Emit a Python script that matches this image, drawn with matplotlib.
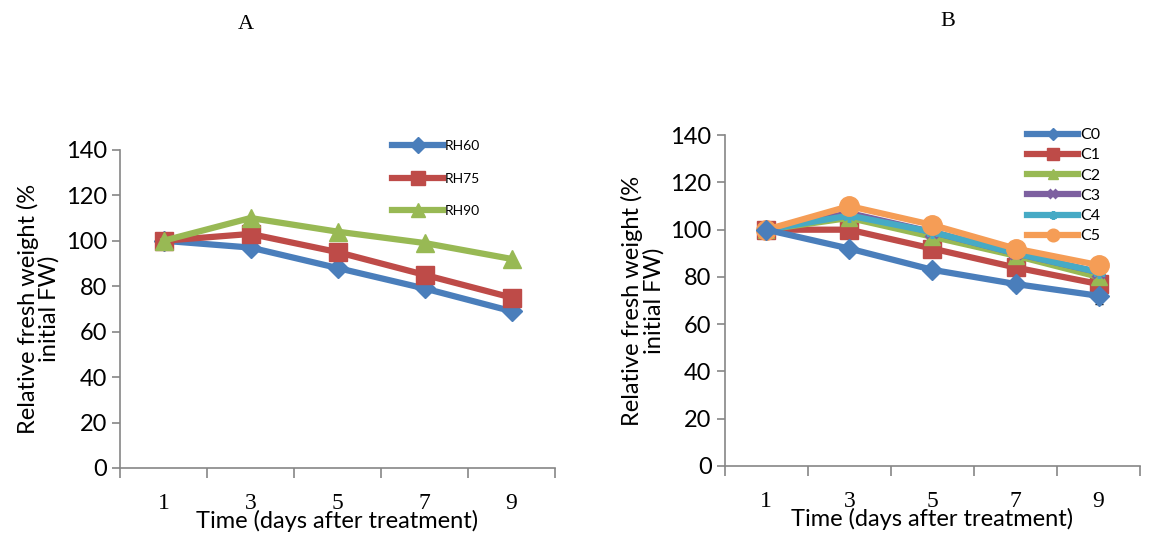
import matplotlib.pyplot as plt
import numpy as np

# values
days = ['1', '3', '5', '7', '9']

rh_names = ['RH60', 'RH75', 'RH90']
rh60 = [100, 97, 88, 79, 69]
rh75 = [100, 103, 95, 85, 75]
rh90 = [100, 110, 104, 99, 92]

c_names = ['C0', 'C1', 'C2', 'C3', 'C4', 'C5']
c0 = [100, 92, 83, 77, 72]
c1 = [100, 100, 92, 84, 77]
c2 = [100, 105, 97, 89, 80]
c3 = [100, 107, 99, 90, 82]
c4 = [100, 106, 99, 90, 82]
c5 = [100, 110, 102, 92, 85]
c0_err = [0, 1.5, 2, 2.5, 3.5]

blue = '#4a7ebb'
red = '#be4b48'
green = '#98b954'
purple = '#7d60a0'
teal = '#46aac5'
orange = '#f59d56'

sans = ['Lato', 'DejaVu Sans']
serif = ['Liberation Serif', 'DejaVu Serif']

fig = plt.figure(figsize=(11.54, 5.41), dpi=100)
axA = fig.add_axes([0.104, 0.135, 0.377, 0.588])
axB = fig.add_axes([0.628, 0.139, 0.360, 0.611])

x = np.arange(len(days))


def style_axis(ax):
    ax.set_ylim(0, 140)
    ax.set_xlim(-0.5, len(days) - 0.5)
    ax.set_yticks(range(0, 141, 20))
    ax.set_xticks(x)
    ax.set_xticklabels(days, fontfamily=serif, fontsize=17)
    ax.set_xticks(np.arange(-0.5, len(days)), minor=True)
    ax.tick_params(axis='x', which='major', length=0, pad=18)
    ax.tick_params(axis='x', which='minor', length=7, color='#868686', width=1.2)
    ax.tick_params(axis='y', length=6, color='#868686', width=1.2, labelsize=17)
    for lab in ax.get_yticklabels():
        lab.set_fontfamily(sans)
    for s in ['top', 'right']:
        ax.spines[s].set_visible(False)
    for s in ['left', 'bottom']:
        ax.spines[s].set_color('#868686')
        ax.spines[s].set_linewidth(1.2)
    ax.set_xlabel('Time (days after treatment)', fontfamily=sans, fontsize=17, labelpad=-3)
    ax.set_ylabel('Relative fresh weight (%\ninitial FW)', fontfamily=sans, fontsize=17,
                  linespacing=1.0, labelpad=4)


# panel A
lw = 4.5
axA.plot(x, rh60, color=blue, lw=lw, marker='D', ms=10, label=rh_names[0])
axA.plot(x, rh75, color=red, lw=lw, marker='s', ms=13, label=rh_names[1])
axA.plot(x, rh90, color=green, lw=lw, marker='^', ms=13, label=rh_names[2])
style_axis(axA)
axA.legend(loc='upper left', bbox_to_anchor=(0.625, 1.032), frameon=False,
           borderpad=0, borderaxespad=0,
           prop={'family': sans, 'size': 10}, handlelength=3.7, labelspacing=1.5,
           handletextpad=0.1, markerscale=0.8)
fig.text(0.213, 0.955, 'A', fontfamily=serif, fontsize=16, ha='center', va='center')

# panel B
hB = []
eb = axB.errorbar(x, c0, yerr=c0_err, color=blue, lw=lw, marker='D', ms=10, ecolor='black',
                  elinewidth=1.5, capsize=3)
hB.append(eb.lines[0])
hB += axB.plot(x, c1, color=red, lw=lw, marker='s', ms=13)
hB += axB.plot(x, c2, color=green, lw=lw, marker='^', ms=12)
hB += axB.plot(x, c3, color=purple, lw=lw, marker='x', ms=9, mew=3)
hB += axB.plot(x, c4, color=teal, lw=lw, marker=(6, 2, 0), ms=9, mew=2.5)
hB += axB.plot(x, c5, color=orange, lw=lw, marker='o', ms=14)
style_axis(axB)
axB.legend(hB, c_names, loc='upper left', bbox_to_anchor=(0.728, 1.022), frameon=False,
           borderpad=0, borderaxespad=0,
           prop={'family': sans, 'size': 11.5}, handlelength=3.2, labelspacing=0.38,
           handletextpad=0.1, markerscale=0.65)
fig.text(0.821, 0.960, 'B', fontfamily=serif, fontsize=16, ha='center', va='center')

fig.savefig('out.png', dpi=100)
